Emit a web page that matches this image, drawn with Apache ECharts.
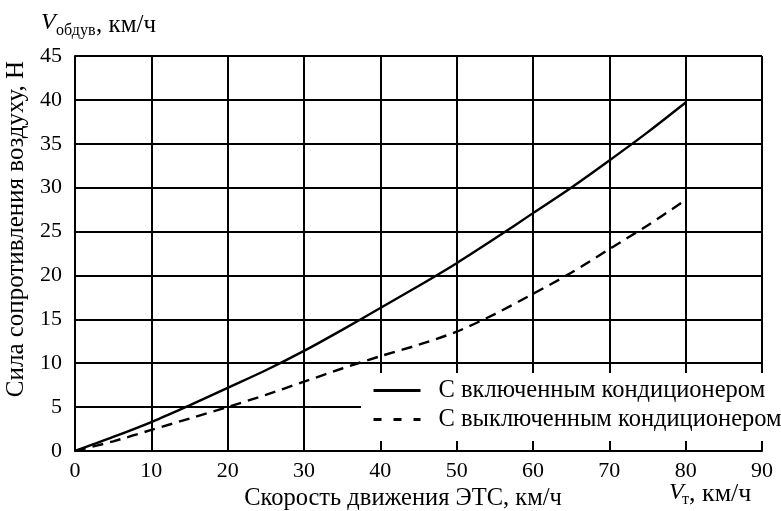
<!DOCTYPE html>
<html>
<head>
<meta charset="utf-8">
<script src="https://cdn.jsdelivr.net/npm/echarts@6/dist/echarts.min.js"></script>
<style>html,body{margin:0;padding:0;background:#fff}#c{width:781px;height:511px}</style>
</head>
<body>
<div id="c"></div>
<script>
const speeds = [0, 5, 10, 15, 20, 25, 30, 35, 40, 45, 50, 55, 60, 65, 70, 75, 80];
const acOn  = [0, 1.6, 3.3, 5.2, 7.2, 9.2, 11.4, 13.8, 16.3, 18.8, 21.4, 24.2, 27.1, 30.0, 33.1, 36.3, 39.7];
const acOff = [0, 1.1, 2.4, 3.7, 5.0, 6.4, 7.9, 9.4, 10.8, 12.1, 13.6, 15.6, 17.9, 20.3, 23.0, 25.7, 28.6];
const seriesNames = ['С включенным кондиционером', 'С выключенным кондиционером'];
const yTitle = 'Сила сопротивления воздуху, Н';
const xTitle = 'Скорость движения ЭТС, км/ч';

const FONT = '"Liberation Serif", "DejaVu Serif", serif';
const chart = echarts.init(document.getElementById('c'), null, {renderer: 'canvas'});
const pairs = arr => speeds.map((s, i) => [s, arr[i]]);

chart.setOption({
  animation: false,
  backgroundColor: '#fff',
  textStyle: {fontFamily: FONT, color: '#000'},
  grid: {left: 75, right: 19, top: 56, bottom: 60, containLabel: false},
  xAxis: {
    type: 'value', min: 0, max: 90, interval: 10,
    axisLine: {show: true, lineStyle: {color: '#000', width: 2}},
    axisTick: {show: false},
    splitLine: {show: true, lineStyle: {color: '#000', width: 2}},
    axisLabel: {color: '#000', fontFamily: FONT, fontSize: 22, margin: 9}
  },
  yAxis: {
    type: 'value', min: 0, max: 45, interval: 5,
    axisLine: {show: true, lineStyle: {color: '#000', width: 2}},
    axisTick: {show: false},
    splitLine: {show: true, lineStyle: {color: '#000', width: 2}},
    axisLabel: {color: '#000', fontFamily: FONT, fontSize: 22, margin: 13}
  },
  legend: {
    orient: 'vertical', left: 372, top: 378,
    itemWidth: 47, itemHeight: 14, itemGap: 4,
    padding: 0, z: 10,
    itemStyle: {opacity: 0},
    lineStyle: {width: 3},
    textStyle: {fontFamily: FONT, fontSize: 24.5, color: '#000', padding: [0, 0, 0, 13]},
    data: [
      {name: seriesNames[0]},
      {name: seriesNames[1], lineStyle: {width: 3, type: [8, 12]}}
    ]
  },
  graphic: [
    {type: 'rect', left: 361, top: 373, z: 5, shape: {width: 420, height: 68}, style: {fill: '#fff'}},
    {type: 'text', x: 16, y: 229, rotation: Math.PI / 2, z: 10,
      style: {text: yTitle, font: '25px ' + FONT, fill: '#000', align: 'center', verticalAlign: 'middle'}},
    {type: 'text', x: 403, y: 499, z: 10,
      style: {text: xTitle, font: '24.5px ' + FONT, fill: '#000', align: 'center', verticalAlign: 'middle'}},
    {type: 'text', x: 41, y: 23, z: 10,
      style: {text: 'V', font: 'italic 24px ' + FONT, fill: '#000', align: 'left', verticalAlign: 'middle'}},
    {type: 'text', x: 56, y: 31, z: 10,
      style: {text: 'обдув', font: '16px ' + FONT, fill: '#000', align: 'left', verticalAlign: 'middle'}},
    {type: 'text', x: 96, y: 25, z: 10,
      style: {text: ', км/ч', font: '25px ' + FONT, fill: '#000', align: 'left', verticalAlign: 'middle'}},
    {type: 'text', x: 669, y: 493, z: 10,
      style: {text: 'V', font: 'italic 24px ' + FONT, fill: '#000', align: 'left', verticalAlign: 'middle'}},
    {type: 'text', x: 682, y: 500, z: 10,
      style: {text: 'т', font: '16px ' + FONT, fill: '#000', align: 'left', verticalAlign: 'middle'}},
    {type: 'text', x: 689, y: 494, z: 10,
      style: {text: ', км/ч', font: '26px ' + FONT, fill: '#000', align: 'left', verticalAlign: 'middle'}}
  ],
  series: [
    {name: seriesNames[0], type: 'line', data: pairs(acOn), smooth: 0.3, showSymbol: false, symbol: 'none',
      z: 3, lineStyle: {color: '#000', width: 2.4, type: 'solid'}, itemStyle: {color: '#000'}},
    {name: seriesNames[1], type: 'line', data: pairs(acOff), smooth: 0.3, showSymbol: false, symbol: 'none',
      z: 3, lineStyle: {color: '#000', width: 2.4, type: [11, 7]}, itemStyle: {color: '#000'}}
  ]
});
</script>
</body>
</html>
